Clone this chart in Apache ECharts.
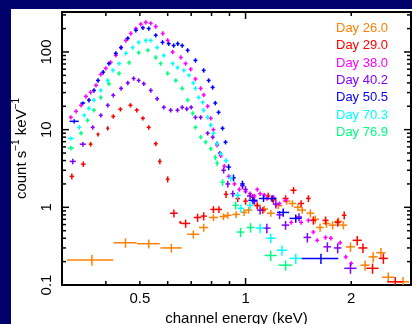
<!DOCTYPE html>
<html>
<head>
<meta charset="utf-8">
<script src="https://cdn.jsdelivr.net/npm/echarts@6/dist/echarts.min.js"></script>
<style>
  html, body { margin: 0; padding: 0; background: #00006b; }
  #chart { position: absolute; left: 11px; top: 9px; width: 401px; height: 315px; background: #fff; }
</style>
</head>
<body>
<div id="chart"></div>
<script>
// points: [energy keV, count s^-1 keV^-1, rel. x half-error, rel. y half-error]
// (errors left out use the series default)
const day26 = [
  [0.365, 0.21, 0.15, 0.16], [0.455, 0.35, 0.075, 0.14], [0.53, 0.34, 0.075, 0.13],
  [0.615, 0.30, 0.07, 0.13], [0.71, 0.45, 0.04, 0.12], [0.76, 0.55, 0.03, 0.12],
  [0.81, 0.74, 0.03, 0.1], [0.865, 0.76, 0.025, 0.1], [0.89, 0.79, 0.025, 0.1],
  [0.94, 0.81, 0.025, 0.1], [0.99, 0.86, 0.02, 0.1], [1.02, 0.92, 0.025, 0.1],
  [1.08, 1.06, 0.025, 0.1], [1.13, 0.95, 0.025, 0.1], [1.18, 0.84, 0.025, 0.1],
  [1.24, 1.05, 0.025, 0.1], [1.31, 1.2, 0.025, 0.1], [1.36, 1.12, 0.025, 0.1],
  [1.41, 1.0, 0.025, 0.1], [1.45, 0.92, 0.025, 0.1], [1.53, 0.84, 0.025, 0.12],
  [1.58, 0.7, 0.025, 0.12], [1.63, 0.55, 0.025, 0.12], [1.70, 0.62, 0.025, 0.12],
  [1.77, 0.59, 0.025, 0.12], [1.84, 0.66, 0.025, 0.12], [1.90, 0.59, 0.025, 0.12],
  [1.99, 0.31, 0.03, 0.14], [2.19, 0.18, 0.03, 0.15], [2.31, 0.23, 0.03, 0.15],
  [2.43, 0.26, 0.03, 0.15], [2.55, 0.126, 0.04, 0.15], [2.81, 0.11, 0.04, 0.15]
];
const day29 = [
  [0.32, 2.5, 0.015, 0.09], [0.345, 3.6, 0.015, 0.08], [0.362, 6.5, 0.012, 0.07],
  [0.38, 8.7, 0.01, 0.06], [0.405, 10.4, 0.01, 0.06], [0.42, 14.8], [0.44, 18.3],
  [0.47, 20.6], [0.49, 17.8], [0.51, 14], [0.53, 10.7], [0.555, 6.6],
  [0.57, 3.9, 0.012, 0.08], [0.60, 2.3, 0.012, 0.09], [0.625, 0.84, 0.025, 0.12],
  [0.652, 0.64, 0.006, 0.04], [0.675, 0.62, 0.03, 0.12], [0.73, 0.74, 0.025, 0.12],
  [0.76, 0.77, 0.02, 0.12], [0.81, 0.94, 0.02, 0.1], [0.84, 0.94, 0.02, 0.1],
  [0.88, 1.47, 0.015, 0.1], [0.95, 1.3, 0.015, 0.1], [1.0, 1.2, 0.015, 0.1],
  [1.05, 1.35, 0.015, 0.1], [1.08, 1.05, 0.015, 0.1], [1.12, 0.92, 0.02, 0.1],
  [1.16, 1.4, 0.015, 0.1], [1.2, 1.25, 0.02, 0.1], [1.3, 1.3, 0.02, 0.1],
  [1.37, 1.66, 0.02, 0.1], [1.44, 1.12, 0.02, 0.1], [1.51, 1.3, 0.015, 0.1],
  [1.56, 0.68, 0.02, 0.12], [1.69, 0.68, 0.02, 0.12], [1.83, 0.64, 0.02, 0.12],
  [1.91, 0.79, 0.015, 0.12], [2.08, 0.376, 0.03, 0.14], [2.16, 0.30, 0.03, 0.14],
  [2.30, 0.164, 0.04, 0.15], [2.47, 0.22, 0.03, 0.15], [2.67, 0.11, 0.05, 0.15]
];
const day38 = [
  [0.318, 14.4], [0.329, 17.2], [0.340, 20.6], [0.351, 26.8], [0.362, 30.3],
  [0.375, 37.2], [0.387, 51.5], [0.40, 61.6], [0.413, 73.5], [0.427, 90.5],
  [0.442, 114], [0.456, 141], [0.471, 173], [0.487, 200], [0.503, 228],
  [0.52, 241], [0.537, 234], [0.555, 213], [0.581, 173], [0.60, 141],
  [0.62, 100], [0.654, 85], [0.675, 71], [0.698, 60], [0.72, 45], [0.745, 34],
  [0.76, 28], [0.78, 20], [0.796, 14], [0.81, 10], [0.83, 6.3], [0.85, 4.6],
  [0.87, 3.4, 0.012, 0.08], [0.895, 2.5, 0.012, 0.09], [0.93, 2.0, 0.015, 0.1],
  [0.96, 1.7, 0.015, 0.1], [1.0, 1.6, 0.015, 0.1], [1.03, 1.5, 0.015, 0.1],
  [1.06, 1.4, 0.015, 0.1], [1.08, 1.7, 0.015, 0.1], [1.1, 1.5, 0.015, 0.1],
  [1.13, 1.45, 0.015, 0.1], [1.15, 1.3, 0.015, 0.1], [1.2, 1.35, 0.015, 0.1],
  [1.25, 1.12, 0.015, 0.1], [1.3, 1.23, 0.015, 0.1], [1.35, 0.64, 0.02, 0.12],
  [1.44, 0.64, 0.02, 0.12], [1.51, 0.68, 0.02, 0.12], [1.56, 0.48, 0.02, 0.13],
  [1.6, 0.376, 0.02, 0.14], [1.69, 0.41, 0.02, 0.14], [1.75, 0.40, 0.02, 0.14],
  [1.86, 0.35, 0.02, 0.14], [1.93, 0.23, 0.02, 0.15], [2.0, 0.19, 0.025, 0.15]
];
const day40 = [
  [0.322, 3.9, 0.02, 0.08], [0.344, 6.5, 0.02, 0.07], [0.367, 10.7], [0.387, 15.3],
  [0.405, 20.6], [0.42, 27.7], [0.442, 34], [0.462, 40], [0.48, 45.6], [0.496, 43],
  [0.513, 39], [0.537, 32], [0.56, 25], [0.585, 19.4], [0.612, 17.8], [0.64, 17.8],
  [0.66, 19.4], [0.68, 18.5], [0.70, 19.4], [0.72, 14.4], [0.745, 14.4], [0.78, 9],
  [0.806, 8], [0.83, 6.6], [0.845, 5], [0.866, 3, 0.015, 0.09], [0.89, 2.0, 0.015, 0.1],
  [0.92, 1.5, 0.015, 0.1], [0.98, 1.9, 0.015, 0.1], [1.0, 1.7, 0.015, 0.1],
  [1.03, 1.4, 0.02, 0.1], [1.06, 1.2, 0.02, 0.1], [1.1, 0.92, 0.02, 0.12],
  [1.15, 0.54, 0.025, 0.14], [1.22, 1.1, 0.02, 0.12], [1.25, 0.8, 0.02, 0.12],
  [1.30, 0.59, 0.025, 0.13], [1.42, 0.75, 0.02, 0.12], [1.50, 0.41, 0.025, 0.14],
  [1.71, 0.31, 0.025, 0.14], [1.83, 0.30, 0.025, 0.15], [1.99, 0.164, 0.04, 0.15]
];
const day50 = [
  [0.325, 12.8, 0.03, 0.06], [0.344, 22, 0.015, 0.05], [0.358, 24], [0.37, 32],
  [0.38, 43], [0.393, 55], [0.408, 71], [0.427, 96], [0.442, 114], [0.462, 150],
  [0.487, 190], [0.51, 205], [0.53, 200], [0.555, 164], [0.58, 133], [0.604, 128],
  [0.624, 121], [0.641, 128], [0.66, 121], [0.684, 105], [0.72, 78], [0.76, 58],
  [0.785, 43], [0.806, 35], [0.82, 22], [0.838, 16.7], [0.86, 10.4], [0.877, 6.9],
  [0.895, 3.3, 0.015, 0.09], [0.924, 2.4, 0.015, 0.1], [0.98, 2.0, 0.015, 0.1],
  [1.05, 1.23, 0.03, 0.1], [1.125, 1.3, 0.03, 0.1], [1.19, 1.3, 0.03, 0.1],
  [1.28, 0.86, 0.04, 0.12], [1.39, 0.72, 0.04, 0.12], [1.64, 0.22, 0.12, 0.15]
];
const day70 = [
  [0.318, 7.7, 0.02, 0.06], [0.336, 10.7], [0.347, 15.3], [0.358, 18.8], [0.37, 24],
  [0.387, 32], [0.405, 43], [0.419, 58], [0.436, 71], [0.456, 96], [0.477, 114],
  [0.496, 133], [0.52, 141], [0.537, 141], [0.56, 114], [0.585, 90], [0.62, 71],
  [0.64, 63], [0.667, 58], [0.69, 50], [0.71, 40], [0.72, 34], [0.735, 26],
  [0.755, 22.5], [0.76, 17.8], [0.78, 14.4], [0.796, 11.4], [0.81, 9], [0.83, 6.6],
  [0.85, 4.9], [0.88, 4, 0.015, 0.08], [0.907, 2.4, 0.015, 0.1], [0.95, 1.43, 0.02, 0.1],
  [0.97, 0.97, 0.02, 0.12], [1.03, 1.06, 0.02, 0.12], [1.10, 0.54, 0.03, 0.14],
  [1.18, 0.40, 0.03, 0.14], [1.27, 0.28, 0.035, 0.15], [1.39, 0.22, 0.04, 0.15]
];
const day77 = [
  [0.318, 5.8, 0.02, 0.07], [0.34, 9], [0.355, 13.2], [0.37, 17.8], [0.387, 26],
  [0.408, 39], [0.436, 53], [0.466, 73], [0.496, 98], [0.527, 105], [0.555, 85],
  [0.573, 71], [0.60, 53], [0.633, 43], [0.66, 34], [0.684, 24], [0.707, 16.2],
  [0.72, 10.7], [0.745, 8], [0.77, 6.9], [0.796, 5.7], [0.82, 4.4, 0.012, 0.08],
  [0.83, 3.7, 0.012, 0.08], [0.86, 2.1, 0.015, 0.1], [0.937, 1.06, 0.02, 0.12],
  [0.968, 0.48, 0.025, 0.14], [1.033, 0.55, 0.025, 0.14], [1.18, 0.24, 0.04, 0.15],
  [1.3, 0.18, 0.045, 0.15]
];

const seriesNames = ['Day 26.0', 'Day 29.0', 'Day 38.0', 'Day 40.2', 'Day 50.5', 'Day 70.3', 'Day 76.9'];
const seriesData = [day26, day29, day38, day40, day50, day70, day77];
const colors = ['#ff8000', '#ff0000', '#ff00ff', '#8000ff', '#0000ff', '#00ffff', '#00ff80'];

const xMinorTicks = [0.4, 0.5, 0.6, 0.7, 0.8, 0.9, 2];
const xMajorTicks = [1];
const xLabels = [0.5, 1, 2];
const yMinorTicks = [0.2, 0.3, 0.4, 0.5, 0.6, 0.7, 0.8, 0.9, 2, 3, 4, 5, 6, 7, 8, 9,
  20, 30, 40, 50, 60, 70, 80, 90, 200, 300];
const yMajorTicks = [1, 10, 100];
const yLabels = [0.1, 1, 10, 100];

const X_MIN = 0.3, X_MAX = 2.96;
const Y_MIN = 0.1, Y_MAX = 327;
const DEF_DX = 0.013, DEF_DY = 0.065;
const MINOR_LEN = 4, MAJOR_LEN = 7;

const FONT = 'Liberation Sans, Arial, Helvetica, sans-serif';
const chart = echarts.init(document.getElementById('chart'));

function makeAxis(kind, pos, labels, extra) {
  const a = {
    type: 'log',
    logBase: 10,
    min: kind === 'x' ? X_MIN : Y_MIN,
    max: kind === 'x' ? X_MAX : Y_MAX,
    position: pos,
    splitLine: { show: false },
    axisLine: { show: true, onZero: false, lineStyle: { color: '#000', width: 2 } },
    axisTick: { show: false },
    axisLabel: labels ? {
      customValues: labels,
      color: '#000', fontSize: 15, fontFamily: FONT,
      formatter: v => String(+(+v).toPrecision(3))
    } : { show: false }
  };
  return Object.assign(a, extra || {});
}

function renderCross(params, api) {
  const x = api.value(0), y = api.value(1);
  let dx = api.value(2), dy = api.value(3);
  if (!(dx > 0)) dx = DEF_DX;
  if (!(dy > 0)) dy = DEF_DY;
  const c = api.coord([x, y]);
  const l = api.coord([x * (1 - dx), y]);
  const r = api.coord([x * (1 + dx), y]);
  const t = api.coord([x, y * (1 + dy)]);
  const b = api.coord([x, y * (1 - dy)]);
  const style = { stroke: api.visual('color'), lineWidth: 1.5 };
  return {
    type: 'group',
    children: [
      { type: 'line', shape: { x1: l[0], y1: c[1], x2: r[0], y2: c[1] }, style: style },
      { type: 'line', shape: { x1: c[0], y1: t[1], x2: c[0], y2: b[1] }, style: style }
    ]
  };
}

// inward ticks on all four sides of the frame
function renderXTick(params, api) {
  const v = api.value(0), len = api.value(2);
  const b = api.coord([v, Y_MIN]);
  const t = api.coord([v, Y_MAX]);
  const style = { stroke: '#000', lineWidth: 1.5 };
  return {
    type: 'group',
    children: [
      { type: 'line', shape: { x1: b[0], y1: b[1], x2: b[0], y2: b[1] - len }, style: style },
      { type: 'line', shape: { x1: t[0], y1: t[1], x2: t[0], y2: t[1] + len }, style: style }
    ]
  };
}
function renderYTick(params, api) {
  const v = api.value(1), len = api.value(2);
  const l = api.coord([X_MIN, v]);
  const r = api.coord([X_MAX, v]);
  const style = { stroke: '#000', lineWidth: 1.5 };
  return {
    type: 'group',
    children: [
      { type: 'line', shape: { x1: l[0], y1: l[1], x2: l[0] + len, y2: l[1] }, style: style },
      { type: 'line', shape: { x1: r[0], y1: r[1], x2: r[0] - len, y2: r[1] }, style: style }
    ]
  };
}

const options = {
  animation: false,
  textStyle: { fontFamily: FONT },
  grid: { left: 51, top: 3, right: 1, bottom: 39, containLabel: false, outerBoundsMode: 'none' },
  legend: {
    orient: 'vertical',
    left: 315, top: 8,
    itemWidth: 0, itemHeight: 0, itemGap: 4.3,
    icon: 'rect',
    textStyle: { fontSize: 13, fontFamily: FONT },
    selectedMode: false,
    data: seriesNames.map((n, i) => ({ name: n, textStyle: { color: colors[i] } }))
  },
  xAxis: [
    makeAxis('x', 'bottom', xLabels, {
      name: 'channel energy (keV)', nameLocation: 'middle', nameGap: 25,
      nameTextStyle: { color: '#000', fontSize: 15, fontFamily: FONT }
    }),
    makeAxis('x', 'top', null)
  ],
  yAxis: [
    makeAxis('y', 'left', yLabels, {
      name: '{n|count s}{s|−1}{n| keV}{s|−1}', nameLocation: 'middle', nameGap: 33,
      nameTextStyle: {
        color: '#000', fontFamily: FONT,
        rich: {
          n: { fontSize: 15, fontFamily: FONT, color: '#000', verticalAlign: 'bottom', lineHeight: 18 },
          s: { fontSize: 10, fontFamily: FONT, color: '#000', verticalAlign: 'top', lineHeight: 10 }
        }
      }
    }),
    makeAxis('y', 'right', null)
  ],
  series: []
};

options.yAxis[0].axisLabel.rotate = 90;
options.yAxis[0].axisLabel.margin = 8;
options.xAxis[0].axisLabel.margin = 6;

for (let i = 0; i < seriesData.length; i++) {
  options.series.push({
    name: seriesNames[i],
    type: 'custom',
    color: colors[i],
    clip: true,
    renderItem: renderCross,
    encode: { x: 0, y: 1 },
    data: seriesData[i]
  });
}

options.series.push({
  name: 'xticks', type: 'custom', silent: true, clip: false,
  renderItem: renderXTick, encode: { x: 0, y: 1 },
  data: xMinorTicks.map(v => [v, Y_MIN, MINOR_LEN]).concat(xMajorTicks.map(v => [v, Y_MIN, MAJOR_LEN]))
});
options.series.push({
  name: 'yticks', type: 'custom', silent: true, clip: false,
  renderItem: renderYTick, encode: { x: 0, y: 1 },
  data: yMinorTicks.map(v => [X_MIN, v, MINOR_LEN]).concat(yMajorTicks.map(v => [X_MIN, v, MAJOR_LEN]))
});

chart.setOption(options, true);
</script>
</body>
</html>
